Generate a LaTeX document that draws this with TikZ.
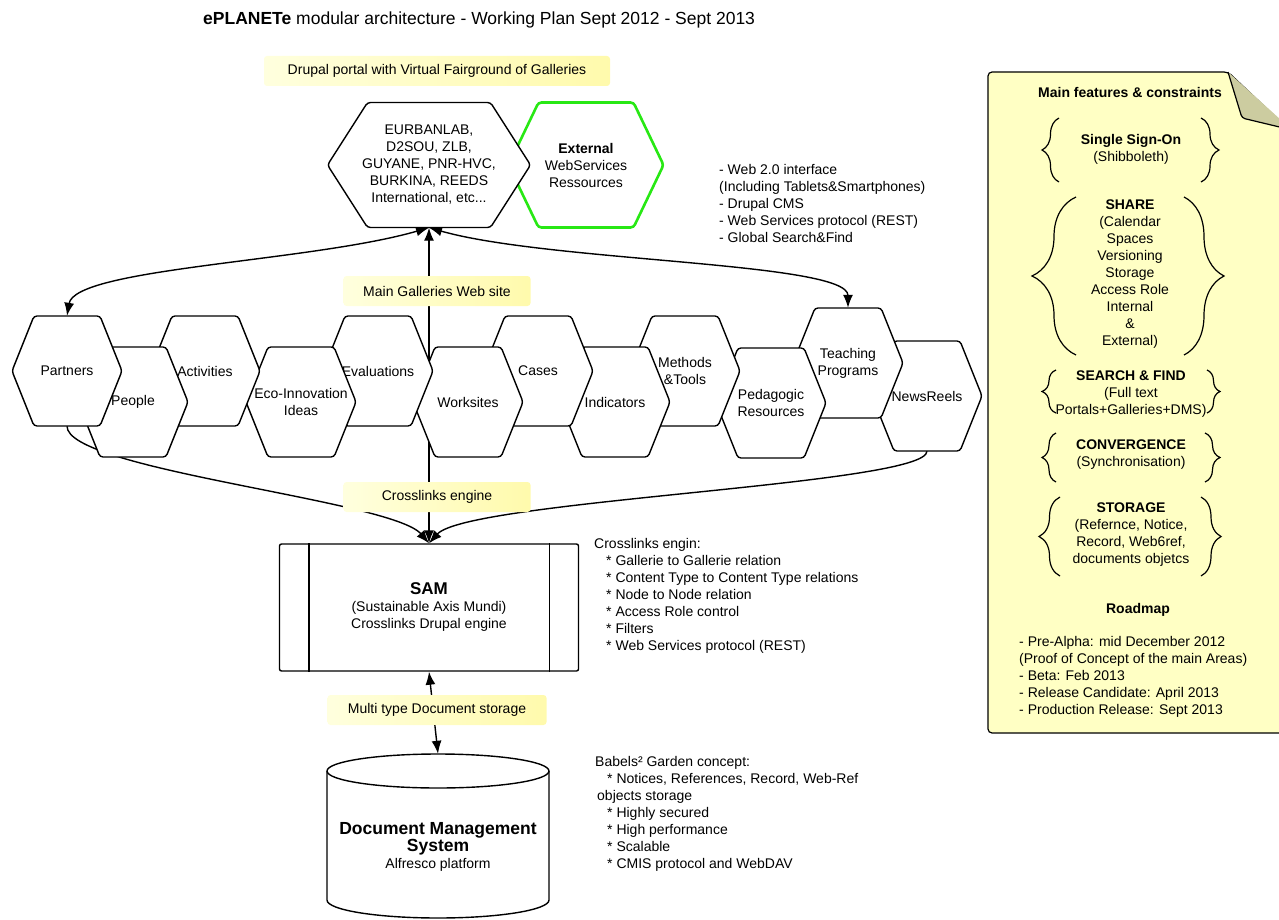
\documentclass[tikz,border=0pt]{standalone}
\usepackage{fontspec}
\setmainfont{Liberation Sans}
\usetikzlibrary{arrows.meta, decorations.pathreplacing, backgrounds, positioning}

\definecolor{labelA}{RGB}{255,255,222}
\definecolor{labelB}{RGB}{255,250,172}
\definecolor{notecol}{RGB}{255,255,196}
\definecolor{foldcol}{RGB}{204,204,160}
\definecolor{extgreen}{RGB}{40,232,20}

% hexagon: name, x, y, half width, half height, tip, line style, text
\newcommand{\hexnode}[8]{%
    \draw[hexline, #7] (#2,#3-#5) -- (#2+#4-#6,#3-#5) -- (#2+#4,#3) -- (#2+#4-#6,#3+#5)
        -- (#2-#4+#6,#3+#5) -- (#2-#4,#3) -- (#2-#4+#6,#3-#5) -- cycle;
    \node[txt, align=center, minimum width={2*#4}, minimum height={2*#5}] (#1) at (#2,#3) {#8};}
\newcommand{\gallery}[4]{\hexnode{#1}{#2}{#3}{55}{55}{22}{}{#4}}

\begin{document}
\begin{tikzpicture}[x=1pt,y=-1pt,>={Latex[length=13pt,width=10pt]}]
    \tikzstyle{txt}=[inner sep=0pt, font=\fontsize{14}{17}\selectfont]
    \tikzstyle{hexline}=[draw, fill=white, line width=1.4pt, rounded corners=3pt]
    \tikzstyle{tag}=[txt, rounded corners=3pt, left color=labelA, right color=labelB, minimum height=30pt]
    \tikzstyle{link}=[line width=1.4pt]
    \tikzstyle{curly}=[line width=1.2pt, decorate, decoration={brace, amplitude=#1}]

    \useasboundingbox (0,0) rectangle (1279,920);

    % title
    \node[txt, anchor=west, font=\fontsize{17.5}{20}\selectfont] (title) at (203,20)
        {\textbf{ePLANETe} modular architecture - Working Plan Sept 2012 - Sept 2013};

    % portal
    \node[tag, minimum width=346pt] (portal) at (437,71) {Drupal portal with Virtual Fairground of Galleries};
    \hexnode{ext}{586}{165}{77.5}{62.5}{30}{draw=extgreen, line width=2.6pt}{\textbf{External}\\WebServices\\Ressources}
    \hexnode{eur}{429}{165}{101.5}{62.5}{40}{}{EURBANLAB,\\D2SOU, ZLB,\\GUYANE, PNR-HVC,\\BURKINA, REEDS\\International, etc...}
    \node[txt, anchor=west, align=left] (web) at (719,203)
        {- Web 2.0 interface\\(Including Tablets\&Smartphones)\\- Drupal CMS\\- Web Services protocol (REST)\\- Global Search\&Find};

    % galleries
    \gallery{newsreels}{927}{396}{NewsReels}
    \gallery{teaching}{848}{363}{Teaching\\Programs}
    \gallery{pedagogic}{771}{403}{Pedagogic\\Resources}
    \gallery{methods}{685}{371}{Methods\\\&Tools}
    \gallery{indicators}{615}{402}{Indicators}
    \gallery{cases}{538}{371}{Cases}
    \gallery{worksites}{468}{402}{Worksites}
    \gallery{evaluations}{378}{371}{Evaluations}
    \gallery{eco}{301}{402}{Eco-Innovation\\Ideas}
    \gallery{activities}{205}{371}{Activities}
    \gallery{people}{133}{402}{People}
    \gallery{partners}{67}{371}{Partners}

    % engine
    \node[txt, draw, line width=1.4pt, rounded corners=2pt, align=center, minimum width=299pt,
        minimum height=127pt] (sam) at (429,607.5)
        {{\fontsize{17}{20}\selectfont\textbf{SAM}}\\(Sustainable Axis Mundi)\\Crosslinks Drupal engine};
    \draw[link] ([xshift=30pt]sam.north west) -- ([xshift=30pt]sam.south west);
    \draw[link] ([xshift=-30pt]sam.north east) -- ([xshift=-30pt]sam.south east);
    \node[txt, anchor=west, align=left] (engin) at (594,596)
        {Crosslinks engin:\\\hspace*{12pt}* Gallerie to Gallerie relation\\\hspace*{12pt}* Content Type to Content Type relations\\\hspace*{12pt}* Node to Node relation\\\hspace*{12pt}* Access Role control\\\hspace*{12pt}* Filters\\\hspace*{12pt}* Web Services protocol (REST)};

    % storage
    \node[minimum width=222pt, minimum height=164pt, inner sep=0pt] (dms) at (438,836) {};
    \draw[link, fill=white] (327,771) -- (327,900) arc[start angle=180, end angle=360, x radius=111pt, y radius=18pt]
        -- (549,771);
    \draw[link, fill=white] (438,771) ellipse [x radius=111pt, y radius=17pt];
    \node[txt, align=center] (dmstext) at (438,847)
        {{\fontsize{17.5}{21}\selectfont\textbf{Document Management}}\\{\fontsize{17.5}{21}\selectfont\textbf{System}}\\Alfresco platform};
    \node[txt, anchor=west, align=left] (babels) at (595,814)
        {Babels² Garden concept:\\\hspace*{12pt}* Notices, References, Record, Web-Ref\\\hspace*{2pt}objects storage\\\hspace*{12pt}* Highly secured\\\hspace*{12pt}* High performance\\\hspace*{12pt}* Scalable\\\hspace*{12pt}* CMIS protocol and WebDAV};

    % connectors
    \begin{scope}[on background layer]
    \draw[link, <->] (sam.north) -- (eur.south);
    \draw[link, <->] (eur.south) .. controls (310,262) and (75,268) .. (partners.north);
    \draw[link, <->] (eur.south) .. controls (550,262) and (848,262) .. (teaching.north);
    \draw[link, ->] (partners.south) .. controls (67,470) and (392,500) .. (sam.north);
    \draw[link, ->] (newsreels.south) .. controls (927,485) and (468,500) .. (sam.north);
    \draw[link, <->] (sam.south) -- (dms.north);
    \end{scope}

    \node[tag, minimum width=187pt] (maingal) at (437,291) {Main Galleries Web site};
    \node[tag, minimum width=187pt] (crossl) at (437,497) {Crosslinks engine};
    \node[tag, minimum width=219pt] (multi) at (437,710) {Multi type Document storage};

    % note
    \draw[line width=1.2pt, fill=notecol, rounded corners=4pt] (1300,733) -- (988,733) -- (988,72)
        -- (1228,72) -- (1300,140) -- cycle;
    \draw[line width=1.2pt, fill=foldcol, rounded corners=3pt] (1228,72) -- (1242,118) -- (1292,130);
    \node[txt] (features) at (1130,92) {\textbf{Main features \& constraints}};
    \node[txt, align=center] (sso) at (1131,149) {\textbf{Single Sign-On}\\(Shibboleth)};
    \draw[curly=17pt] (1059,182) -- (1059,118);
    \draw[curly=18pt] (1201,118) -- (1201,182);
    \node[txt, align=center] (share) at (1130,274)
        {\textbf{SHARE}\\(Calendar\\Spaces\\Versioning\\Storage\\Access Role\\Internal\\\&\\External)};
    \draw[curly=44pt] (1076,355) -- (1076,197);
    \draw[curly=40pt] (1184,197) -- (1184,355);
    \node[txt, align=center] (search) at (1131,394) {\textbf{SEARCH \& FIND}\\(Full text\\Portals+Galleries+DMS)};
    \draw[curly=14pt] (1056,413) -- (1056,370);
    \draw[curly=13pt] (1207,370) -- (1207,413);
    \node[txt, align=center] (conv) at (1131,455) {\textbf{CONVERGENCE}\\(Synchronisation)};
    \draw[curly=14pt] (1056,482) -- (1056,433);
    \draw[curly=15pt] (1205,433) -- (1205,482);
    \node[txt, align=center] (storage) at (1131,535)
        {\textbf{STORAGE}\\(Refernce, Notice,\\Record, Web6ref,\\documents objetcs};
    \draw[curly=21pt] (1060,576) -- (1060,497);
    \draw[curly=20pt] (1201,497) -- (1201,576);
    \node[txt] (roadmap) at (1138,610) {\textbf{Roadmap}};
    \node[txt, anchor=west, align=left] (steps) at (1019,677)
        {- Pre-Alpha: mid December 2012\\(Proof of Concept of the main Areas)\\- Beta: Feb 2013\\- Release Candidate: April 2013\\- Production Release: Sept 2013};
\end{tikzpicture}
\end{document}
